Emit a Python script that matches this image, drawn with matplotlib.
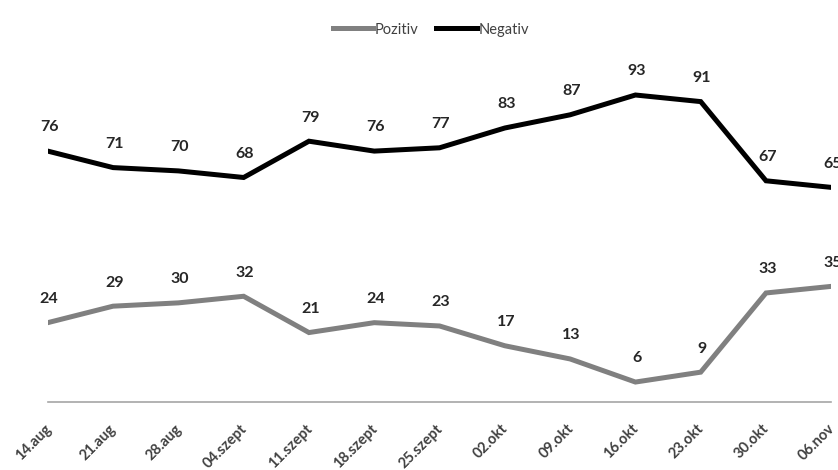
"""
Weekly share of positive vs negative mentions, Aug-Nov.
Output: out.png
"""

import matplotlib.pyplot as plt
import matplotlib.transforms as mtransforms

PLOT_PATH = "out.png"

dates = ["14.aug", "21.aug", "28.aug", "04.szept", "11.szept", "18.szept",
         "25.szept", "02.okt", "09.okt", "16.okt", "23.okt", "30.okt", "06.nov"]
pozitiv = [24, 29, 30, 32, 21, 24, 23, 17, 13, 6, 9, 33, 35]
negativ = [76, 71, 70, 68, 79, 76, 77, 83, 87, 93, 91, 67, 65]

plt.rcParams["font.family"] = ["Lato", "DejaVu Sans"]

fig = plt.figure(figsize=(8.38, 4.70), dpi=100)
ax = fig.add_axes([0.057, 0.145, 0.935, 0.702])

x = range(len(dates))
ax.plot(x, pozitiv, color="#808080", lw=3.6, solid_joinstyle="miter", label="Pozitiv")
ax.plot(x, negativ, color="#000000", lw=3.6, solid_joinstyle="miter", label="Negativ")

# value labels above each point
for series in (pozitiv, negativ):
    for i, v in enumerate(series):
        ax.annotate(str(v), (i, v), xytext=(1, 17), textcoords="offset points",
                    ha="center", va="center", fontsize=11.5, fontweight="bold",
                    color="#262626")

ax.set_xlim(0, len(dates) - 1)
ax.set_ylim(0, 100)
ax.set_yticks([])
ax.set_xticks(list(x))
ax.set_xticklabels(dates, rotation=45, ha="right", va="center",
                   rotation_mode="anchor", fontsize=10.5, fontweight="bold",
                   color="#404040")
ax.tick_params(axis="x", length=0, pad=18)
shift = mtransforms.ScaledTranslation(1 / 100, 0, fig.dpi_scale_trans)
for lbl in ax.get_xticklabels():
    lbl.set_transform(lbl.get_transform() + shift)

for side in ("top", "right", "left"):
    ax.spines[side].set_visible(False)
ax.spines["bottom"].set_color("#a6a6a6")
ax.spines["bottom"].set_linewidth(1.2)

leg = fig.legend(loc="upper center", bbox_to_anchor=(0.514, 0.98), ncol=2,
                 frameon=False, fontsize=10.5, handlelength=2.8,
                 handletextpad=0.1, columnspacing=1.2)
for t in leg.get_texts():
    t.set_color("#404040")

fig.savefig(PLOT_PATH, dpi=100)
